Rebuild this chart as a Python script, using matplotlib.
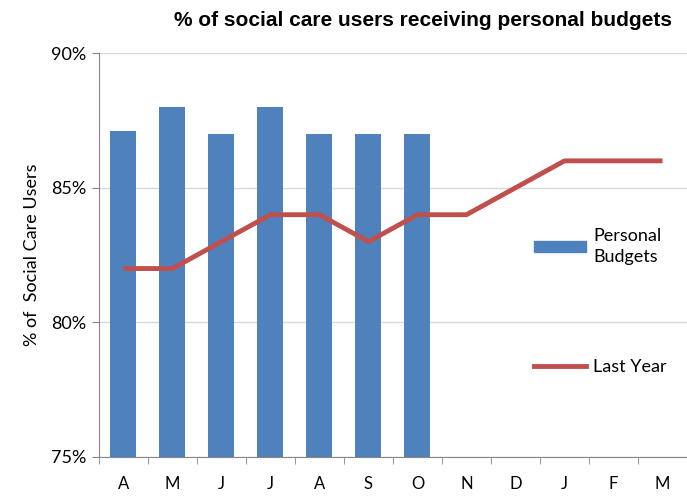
import matplotlib.pyplot as plt
from matplotlib.patches import Patch
from matplotlib.lines import Line2D

months = ['A', 'M', 'J', 'J', 'A', 'S', 'O', 'N', 'D', 'J', 'F', 'M']
personal_budgets = [87.1, 88, 87, 88, 87, 87, 87]
last_year = [82, 82, 83, 84, 84, 83, 84, 84, 85, 86, 86, 86]
y_ticks = [75, 80, 85, 90]

blue = '#4F81BD'
red = '#C0504D'
plt.rcParams['font.family'] = ['Lato', 'DejaVu Sans']

fig = plt.figure(figsize=(6.87, 4.97), dpi=100)
ax = fig.add_axes([0.144, 0.0805, 0.856, 0.8125])

x = list(range(len(months)))
ax.bar(x[:len(personal_budgets)], personal_budgets, width=0.53, color=blue, zorder=2)
ax.plot(x, last_year, color=red, linewidth=3.5, solid_capstyle='butt', zorder=3)

ax.set_xlim(-0.5, len(months) - 0.5)
ax.set_ylim(75, 90)
ax.set_yticks(y_ticks)
ax.set_yticklabels([f'{v}%' for v in y_ticks], fontsize=13)
ax.set_xticks(x)
ax.set_xticklabels(months, fontsize=12)
ax.set_xticks([i - 0.5 for i in range(len(months) + 1)], minor=True)
ax.tick_params(axis='x', which='major', length=0, pad=14)
ax.tick_params(axis='x', which='minor', length=5, color='#868686')
ax.tick_params(axis='y', length=5, color='#868686', pad=4)
ax.grid(axis='y', color='#D9D9D9', linewidth=1, zorder=0)
ax.set_axisbelow(True)

for s in ['top', 'right']:
    ax.spines[s].set_visible(False)
for s in ['left', 'bottom']:
    ax.spines[s].set_color('#868686')

ax.set_ylabel('% of  Social Care Users', fontsize=13, labelpad=8)

fig.text(0.616, 0.958, '% of social care users receiving personal budgets',
         ha='center', va='center', fontsize=15, fontweight='bold',
         family='Liberation Sans')

handles = [Patch(color=blue), Line2D([0], [0], color=red, linewidth=3.5)]
leg = ax.legend(handles, ['Personal\nBudgets', 'Last Year'], loc='upper left',
                bbox_to_anchor=(0.764, 0.56), bbox_transform=fig.transFigure,
                frameon=False, fontsize=13, handlelength=2.9, handleheight=0.6,
                handletextpad=0.4, labelspacing=5.2, borderpad=0)
for t in leg.get_texts():
    t.set_linespacing(1.4)

fig.savefig('out.png', dpi=100)
